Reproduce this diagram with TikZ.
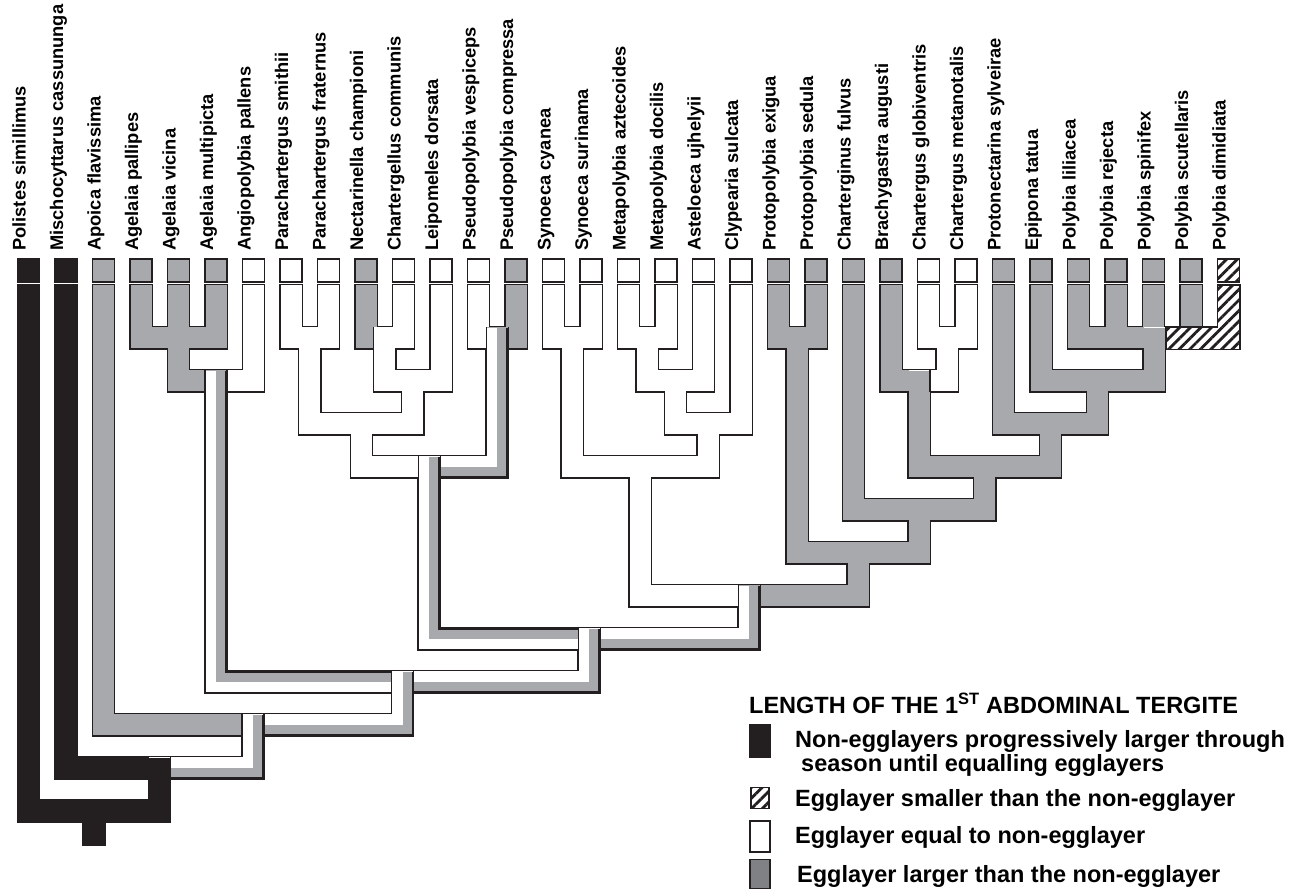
\documentclass[tikz,border=0pt]{standalone}
\usepackage{fontspec}
\setmainfont{Liberation Sans}
\usetikzlibrary{patterns.meta}

\definecolor{ink}{RGB}{35,31,32}
\definecolor{egg}{RGB}{167,169,172}
\definecolor{keygray}{RGB}{128,129,133}

\newcommand{\branches}{%
  28.5/-1/23/94/ink, 66/-1/21/159.5/ink, 103.5/-1/19/253.05/egg,
  141/-1/1/178.5/egg, 178.5/-1/1/178.6/egg, 216/-1/1/178.5/egg,
  253.5/-1/3/216/white, 291/-1/1/309.75/white, 328.5/-1/1/309.75/white,
  366/-1/1/384.75/egg, 403.5/-1/1/384.75/white, 441/-1/3/412.875/white,
  478.5/-1/1/497.25/white, 516/-1/1/497.25/egg, 553.5/-1/1/572.25/white,
  591/-1/1/572.25/white, 628.5/-1/1/647.25/white, 666/-1/1/647.25/white,
  703.5/-1/3/675.375/white, 741/-1/5/708.19/white, 778.5/-1/1/797.25/egg,
  816/-1/1/797.25/egg, 853.5/-1/9/919.16/egg, 891/-1/3/919.125/egg,
  928.5/-1/1/947.25/white, 966/-1/1/947.25/white, 1003.5/-1/5/1050.5/egg,
  1041/-1/3/1097.5/egg, 1078.5/-1/1/1154/egg, 1116/-1/1/1154/egg,
  1153.5/-1/1/1154/egg, 1191/-1/1/1154/egg, 1228.5/-1/1/1154/white,
  178.5/1/3/216/egg, 309.75/1/5/361.31/white, 384.75/1/3/412.875/white,
  497.25/1/7/429.28/white, 572.25/1/7/640.22/white, 647.25/1/3/675.375/white,
  797.25/1/11/858.2/egg, 947.25/1/3/919.125/white, 1154/1/3/1097.5/egg,
  216/3/17/402.6/white, 412.875/3/5/361.31/white, 675.375/3/5/708.19/white,
  919.125/3/7/984.81/egg, 1097.5/3/5/1050.5/egg,
  361.31/5/7/429.28/white, 708.19/5/7/640.22/white, 1050.5/5/7/984.81/egg,
  429.28/7/15/589.25/white, 640.22/7/13/749.21/white, 984.81/7/9/919.16/egg,
  919.16/9/11/858.2/egg, 858.2/11/13/749.21/egg, 749.21/13/15/589.25/white,
  589.25/15/17/402.6/white, 402.6/17/19/253.05/white, 253.05/19/21/159.5/white,
  159.5/21/23/94/ink, 94/23/24.1/94.1/ink}

\begin{document}
\begin{tikzpicture}[x=1pt, y=-1pt,
    rim/.style={draw=ink, line width=23.6pt, line cap=rect, line join=miter},
    core/.style={line width=21pt, line cap=rect, line join=miter},
    lanegray/.style={draw=egg, line width=9pt, line join=miter},
    laneink/.style={draw=ink, line width=2.2pt, line join=miter},
    seam/.style={draw=ink, line width=1.3pt},
    tipbox/.style={draw=ink, line width=1.4pt, minimum width=22pt,
        minimum height=23pt, inner sep=0pt},
    hatched/.style={draw=ink, line width=1.4pt, fill=white,
        postaction={pattern={Lines[angle=45,distance=7.5pt,line width=2.8pt]},
        pattern color=ink}},
    taxon/.style={rotate=90, anchor=base west, inner sep=0pt,
        font=\bfseries\fontsize{18.3}{18.3}\selectfont},
    keybox/.style={draw=ink, line width=1.4pt, inner sep=0pt},
    keytext/.style={anchor=base west, inner sep=0pt,
        font=\bfseries\fontsize{23.5}{23.5}\selectfont}
  ]
  \useasboundingbox (0,0) rectangle (1301,892);

  \foreach \bx/\ba/\bb/\bp/\bc in \branches {
    \pgfmathsetmacro\yt{317+21.5*\ba}
    \pgfmathsetmacro\yb{316.25+21.5*\bb}
    \draw[rim] (\bx,\yt) |- (\bp,\yb);
  }
  \foreach \bx/\ba/\bb/\bp/\bc in \branches {
    \pgfmathsetmacro\yt{317+21.5*\ba}
    \pgfmathsetmacro\yb{316.25+21.5*\bb}
    \draw[core, draw=\bc] (\bx,\yt) |- (\bp,\yb);
  }

  \foreach \bx/\ba/\bb/\bp/\bs in {497.25/1/7/429.28/1, 216/3/17/402.6/-1,
      429.28/7/15/589.25/-1, 749.21/13/15/589.25/1, 589.25/15/17/402.6/1,
      402.6/17/19/253.05/1, 253.05/19/21/159.5/1} {
    \pgfmathsetmacro\yt{306.5+21.5*\ba}
    \pgfmathsetmacro\yb{316.25+21.5*\bb}
    \pgfmathsetmacro\xe{\bp+11.5*\bs}
    \draw[lanegray] ({\bx+4.5},\yt) -- ({\bx+4.5},{\yb+4.5*\bs}) -- (\xe,{\yb+4.5*\bs});
    \draw[laneink] ({\bx+10},\yt) -- ({\bx+10},{\yb+10*\bs}) -- (\xe,{\yb+10*\bs});
  }

  \foreach \bx/\bk/\bs in {384.75/1/-1, 497.25/1/-1, 497.25/1/1, 216/3/-1,
      216/3/1, 429.28/7/-1, 429.28/7/1, 589.25/15/-1, 589.25/15/1,
      749.21/13/-1, 749.21/13/1, 402.6/17/-1, 402.6/17/1, 253.05/19/-1,
      253.05/19/1, 159.5/21/1, 919.125/3/1}
    \draw[seam] ({\bx+11*\bs},{305.5+21.5*\bk}) -- ++(0,21.5);

  \draw[hatched] (1166,327) -- (1217.5,327) -- (1217.5,285) -- (1240,285)
    -- (1240,349.25) -- (1166,349.25) -- cycle;

  \foreach \tname/\tcol [count=\i from 0] in {Polistes simillimus/ink,
      Mischocyttarus cassununga/ink, Apoica flavissima/egg,
      Agelaia pallipes/egg, Agelaia vicina/egg, Agelaia multipicta/egg,
      Angiopolybia pallens/white, Parachartergus smithii/white,
      Parachartergus fraternus/white, Nectarinella championi/egg,
      Chartergellus communis/white, Leipomeles dorsata/white,
      Pseudopolybia vespiceps/white, Pseudopolybia compressa/egg,
      Synoeca cyanea/white, Synoeca surinama/white,
      Metapolybia aztecoides/white, Metapolybia docilis/white,
      Asteloeca ujhelyii/white, Clypearia sulcata/white,
      Protopolybia exigua/egg, Protopolybia sedula/egg,
      Charterginus fulvus/egg, Brachygastra augusti/egg,
      Chartergus globiventris/white, Chartergus metanotalis/white,
      Protonectarina sylveirae/egg, Epipona tatua/egg,
      Polybia liliacea/egg, Polybia rejecta/egg, Polybia spinifex/egg,
      Polybia scutellaris/egg, Polybia dimidiata/white} {
    \node[tipbox, fill=\tcol] (b\i) at ({28.5+37.5*\i},270.5) {};
    \node[taxon] (t\i) at ({25.5+37.5*\i},251) {\tname};
  }
  \node[tipbox, hatched] (b32h) at (1228.5,270.5) {};

  \node[keytext] (keyhead) at (749,713.5)
    {LENGTH OF THE 1\textsuperscript{ST} ABDOMINAL TERGITE};
  \node[keybox, fill=ink, minimum width=21pt, minimum height=32pt] (key1) at (760,741) {};
  \node[keytext] (key1a) at (795,747) {Non-egglayers progressively larger through};
  \node[keytext] (key1b) at (801,771) {season until equalling egglayers};
  \node[keybox, hatched, minimum width=18pt, minimum height=21pt] (key2) at (760,798) {};
  \node[keytext] (key2a) at (795,806) {Egglayer smaller than the non-egglayer};
  \node[keybox, fill=white, minimum width=20pt, minimum height=31pt] (key3) at (760,836.5) {};
  \node[keytext] (key3a) at (795,843) {Egglayer equal to non-egglayer};
  \node[keybox, fill=keygray, minimum width=20pt, minimum height=29pt] (key4) at (760,874) {};
  \node[keytext] (key4a) at (797,882) {Egglayer larger than the non-egglayer};
\end{tikzpicture}
\end{document}
